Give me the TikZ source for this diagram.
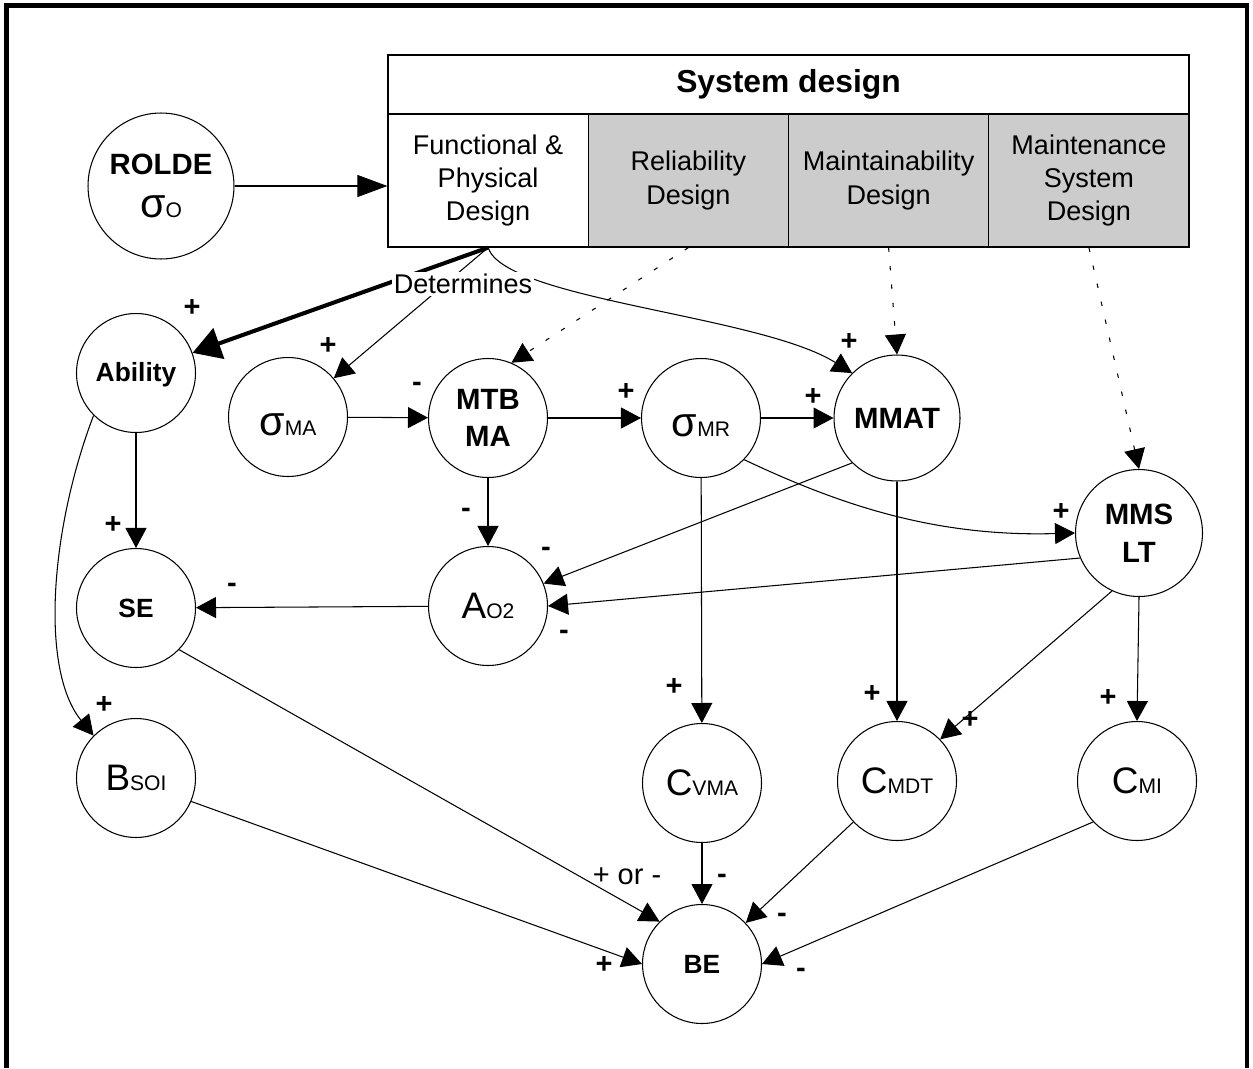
\documentclass[tikz,border=0pt]{standalone}
\usepackage{fontspec}
\setmainfont{Liberation Sans}
\usetikzlibrary{arrows.meta}

% variable symbol: large letter followed by a small index on the same baseline
\newcommand\bigsym[2]{{\fontsize{21}{24}\selectfont #1}{\fontsize{12}{14}\selectfont #2}}
\newcommand\sigsym[1]{{\fontsize{23.5}{26}\selectfont σ}{\fontsize{12}{14}\selectfont #1}}

\tikzset{
  var/.style={circle, draw, line width=0.6pt, inner sep=0pt, minimum size=2.38cm},
  boldvar/.style={var, font=\bfseries\fontsize{15}{18}\selectfont},
  bigvar/.style={var, font=\bfseries\fontsize{16.7}{21}\selectfont, align=center},
  sigvar/.style={var, text height=21pt, text depth=0pt},
  link/.style={line width=0.6pt, -{Triangle[length=0.4cm,width=0.42cm]}},
  hint/.style={link, dash pattern=on 2.5pt off 8pt},
  strong/.style={line width=2.3pt, -{Triangle[length=0.56cm,width=0.64cm]}},
  sgn/.style={inner sep=0pt, font=\bfseries\fontsize{16.5}{18}\selectfont},
  cell/.style={draw, line width=0.7pt, minimum width=4.005cm, minimum height=2.66cm,
               align=center, font=\fontsize{15.4}{18.8}\selectfont},
  shaded/.style={cell, fill=black!20},
}

\begin{document}
\begin{tikzpicture}[x=0.02cm, y=-0.02cm]
\useasboundingbox (0,0) rectangle (1253,1068);

% outer frame (open at the bottom)
\draw[line width=2.3pt] (6.5,1068) -- (6.5,5.5) -- (1247,5.5) -- (1247,1068);

% system design table
\node[cell, minimum width=16.02cm, minimum height=1.18cm,
      font=\bfseries\fontsize{18.1}{22}\selectfont] (sysd) at (788.5,84.5) {System design};
\node[cell]   (fpd)   at (488.1,180.5) {Functional \&\\Physical\\Design};
\node[shaded] (rel)   at (688.4,180.5) {Reliability\\Design};
\node[shaded] (maint) at (888.6,180.5) {Maintainability\\Design};
\node[shaded] (msys)  at (1088.9,180.5) {Maintenance\\System\\Design};

% variables
\node[var, minimum size=2.92cm, align=center, font=\fontsize{16.7}{24.5}\selectfont]
     (rolde) at (161,186) {{\bfseries ROLDE}\\\sigsym{O}};
\node[boldvar, text height=10.2pt, text depth=0pt] (ability) at (136,373) {Ability};
\node[sigvar] (sma)   at (288,417) {\sigsym{MA}};
\node[bigvar] (mtbma) at (488,418) {MTB\\MA};
\node[sigvar] (smr)   at (701,418) {\sigsym{MR}};
\node[bigvar, minimum size=2.52cm] (mmat) at (897,418) {MMAT};
\node[bigvar, minimum size=2.54cm, font=\bfseries\fontsize{16.7}{21.6}\selectfont]
     (mmslt) at (1139,533) {MMS\\LT};
\node[boldvar] (se)   at (136,608) {SE};
\node[var]     (ao2)  at (488,606) {\bigsym{A}{O2}};
\node[var]     (bsoi) at (136,778) {\bigsym{B}{SOI}};
\node[var]     (cvma) at (702,783) {\bigsym{C}{VMA}};
\node[var]     (cmdt) at (897,781) {\bigsym{C}{MDT}};
\node[var]     (cmi)  at (1137,781) {\bigsym{C}{MI}};
\node[boldvar] (be)   at (702,964) {BE};

% input to the design
\draw[link, -{Triangle[length=0.6cm,width=0.44cm]}] (rolde.east) -- (rolde.east -| fpd.west);

% what the functional and physical design determines
\coordinate (fpdfoot) at (fpd.south);
\draw[strong] (fpdfoot) -- (ability);
\draw[link] (fpdfoot) -- (sma);
\draw[link] (fpdfoot) .. controls (505,300) and (760,315) .. (mmat.135);

% design disciplines
\draw[hint] (rel.south) -- (mtbma.67);
\draw[hint] (maint.south) -- (mmat.north);
\draw[hint] (msys.south) -- (mmslt.north);

% causal links
\draw[link] (sma) -- (mtbma);
\draw[link] (mtbma) -- (smr);
\draw[link] (smr) -- (mmat);
\draw[link] (mtbma) -- (ao2);
\draw[link] (mmat.225) -- (ao2.22);
\draw[link] (mmslt.203) -- (ao2.east);
\draw[link] (ao2) -- (se);
\draw[link] (ability) -- (se);
\draw[link] (ability.225) .. controls (50,530) and (40,670) .. (bsoi.135);
\draw[link] (smr.-44) .. controls (840,505) and (935,537) .. (mmslt.west);
\draw[link] (smr) -- (cvma);
\draw[link] (mmat) -- (cmdt);
\draw[link] (mmslt.245) -- (cmdt.44);
\draw[link] (mmslt.south) -- (cmi.north);
\draw[link] (se.-44) -- (be.135);
\draw[link] (bsoi.-23) -- (be.west);
\draw[link] (cvma) -- (be);
\draw[link] (cmdt) -- (be);
\draw[link] (cmi.223) -- (be.east);

\node[fill=white, inner sep=1pt, font=\fontsize{15.4}{18}\selectfont] (det) at (463,284) {Determines};

% signs of the influences
\node[sgn] (s1)  at (192,308) {+};
\node[sgn] (s2)  at (328,346) {+};
\node[sgn] (s3)  at (417,387) {-};
\node[sgn] (s4)  at (626,392) {+};
\node[sgn] (s5)  at (813,397) {+};
\node[sgn] (s6)  at (849,342) {+};
\node[sgn] (s7)  at (466,513) {-};
\node[sgn] (s8)  at (546,552) {-};
\node[sgn] (s9)  at (564,635) {-};
\node[sgn] (s10) at (232,588) {-};
\node[sgn] (s11) at (113,525) {+};
\node[sgn] (s12) at (1061,512) {+};
\node[sgn] (s13) at (104,705) {+};
\node[sgn] (s14) at (674,687) {+};
\node[sgn] (s15) at (872,694) {+};
\node[sgn] (s16) at (970,720) {+};
\node[sgn] (s17) at (1108,698) {+};
\node[sgn, font=\fontsize{16.5}{18}\selectfont] (s18) at (627,876) {+ or -};
\node[sgn] (s19) at (722,879) {-};
\node[sgn] (s20) at (782,918) {-};
\node[sgn] (s21) at (801,973) {-};
\node[sgn] (s22) at (604,965) {+};
\end{tikzpicture}
\end{document}
